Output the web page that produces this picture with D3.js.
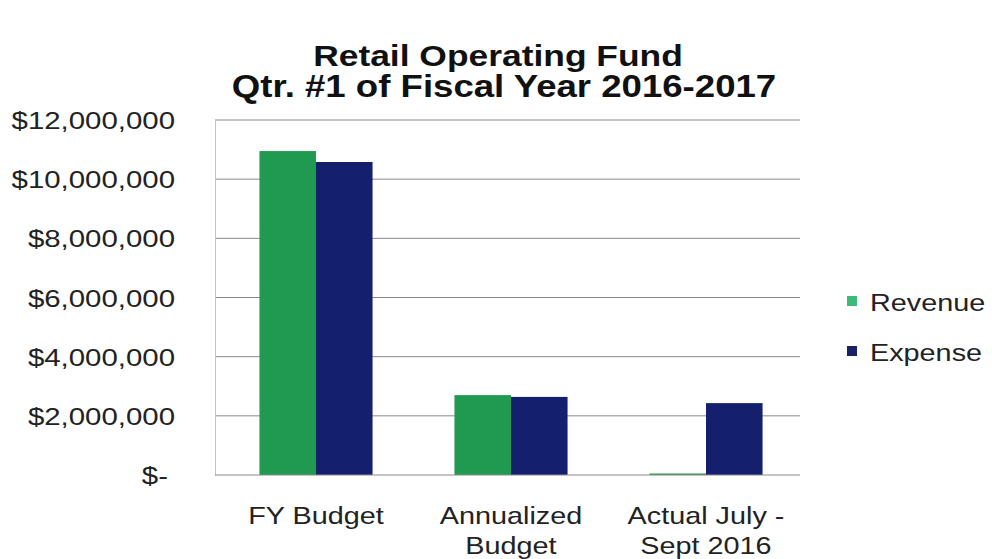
<!DOCTYPE html>
<html>
<head>
<meta charset="utf-8">
<script src="https://cdn.jsdelivr.net/npm/d3@7"></script>
<style>
  html, body { margin: 0; padding: 0; background: #fff; }
  svg { display: block; font-family: "Liberation Sans", Arial, sans-serif; }
</style>
</head>
<body>
<svg id="chart" width="992" height="559"></svg>
<script>
// Retail Operating Fund, Q1 FY 2016-2017
const categories = [["FY Budget"], ["Annualized", "Budget"], ["Actual July -", "Sept 2016"]];
const seriesNames = ["Revenue", "Expense"];
const revenue = [10950000, 2700000, 50000];
const expense = [10580000, 2640000, 2430000];
const yTicks = [0, 2000000, 4000000, 6000000, 8000000, 10000000, 12000000];
const titleLines = ["Retail Operating Fund", "Qtr. #1 of Fiscal Year 2016-2017"];

const colors = { Revenue: "#1f9a50", Expense: "#14206e" };
const legendColors = { Revenue: "#3dba76", Expense: "#1a2266" };

// text is drawn slightly widened
const SX = 1.2;

const svg = d3.select("#chart");
const W = 992, H = 559;
const plot = { left: 215, right: 800, top: 120, bottom: 475 };

const x = d3.scaleBand()
  .domain(d3.range(categories.length))
  .range([plot.left + 3.5, plot.right + 3.5])
  .paddingInner(0.42)
  .paddingOuter(0.21);

const xs = d3.scaleBand().domain(seriesNames).range([0, x.bandwidth()]);

const y = d3.scaleLinear().domain([0, 12000000]).range([plot.bottom, plot.top]);

function wideText(sel, tx, ty, anchor) {
  return sel.attr("text-anchor", anchor)
    .attr("transform", (d, i) => `translate(${tx(d, i)},${ty(d, i)}) scale(${SX},1)`);
}

// title
svg.append("g").selectAll("text").data(titleLines).join("text")
  .call(wideText, (d, i) => i === 0 ? 498 : 504, (d, i) => 66 + i * 31, "middle")
  .attr("font-weight", "bold").attr("font-size", (d, i) => i === 0 ? 29.5 : 30.5).attr("fill", "#111")
  .text(d => d);

// gridlines
svg.append("g").selectAll("line").data(yTicks.slice(1)).join("line")
  .attr("x1", plot.left).attr("x2", plot.right)
  .attr("y1", d => y(d)).attr("y2", d => y(d))
  .attr("stroke", "#8a8a8a").attr("stroke-width", 1);

// y axis line
const yAxis = svg.append("g")
  .attr("transform", `translate(${plot.left},0)`)
  .call(d3.axisLeft(y).tickValues(yTicks).tickFormat("").tickSize(0));
yAxis.select(".domain").attr("stroke", "#c4c4c4");

// y tick labels
const fmt = v => v === 0 ? "$-" : "$" + d3.format(",")(v);
svg.append("g").selectAll("text").data(yTicks).join("text")
  .call(wideText, d => d === 0 ? 168 : 175, d => y(d) + 9, "end")
  .attr("font-size", 24.5).attr("fill", "#222")
  .text(fmt);

// bars
const data = categories.map((c, i) => ({ i, Revenue: revenue[i], Expense: expense[i] }));
const groups = svg.append("g").selectAll("g").data(data).join("g")
  .attr("transform", d => `translate(${x(d.i)},0)`);
groups.selectAll("rect").data(d => seriesNames.map(s => ({ s, v: d[s] }))).join("rect")
  .attr("x", d => xs(d.s)).attr("width", xs.bandwidth())
  .attr("y", d => y(d.v)).attr("height", d => y(0) - y(d.v))
  .attr("fill", d => colors[d.s]);

// baseline
svg.append("line")
  .attr("x1", plot.left).attr("x2", plot.right)
  .attr("y1", y(0)).attr("y2", y(0))
  .attr("stroke", "#8a8a8a");

// category labels
const lines = [];
categories.forEach((c, i) => c.forEach((t, j) => lines.push({ t, i, j })));
svg.append("g").selectAll("text").data(lines).join("text")
  .call(wideText, d => x(d.i) + x.bandwidth() / 2, d => y(0) + 49 + d.j * 30, "middle")
  .attr("font-size", 24).attr("fill", "#222")
  .text(d => d.t);

// legend
const lg = svg.append("g").attr("transform", "translate(847,302)");
const li = lg.selectAll("g").data(seriesNames).join("g")
  .attr("transform", (d, i) => `translate(0,${i * 50})`);
li.append("rect").attr("x", 0).attr("y", -6).attr("width", 10).attr("height", 10)
  .attr("fill", d => legendColors[d]);
li.append("text").attr("transform", `translate(23,9) scale(${SX},1)`)
  .attr("font-size", 24).attr("fill", "#222").text(d => d);
</script>
</body>
</html>
